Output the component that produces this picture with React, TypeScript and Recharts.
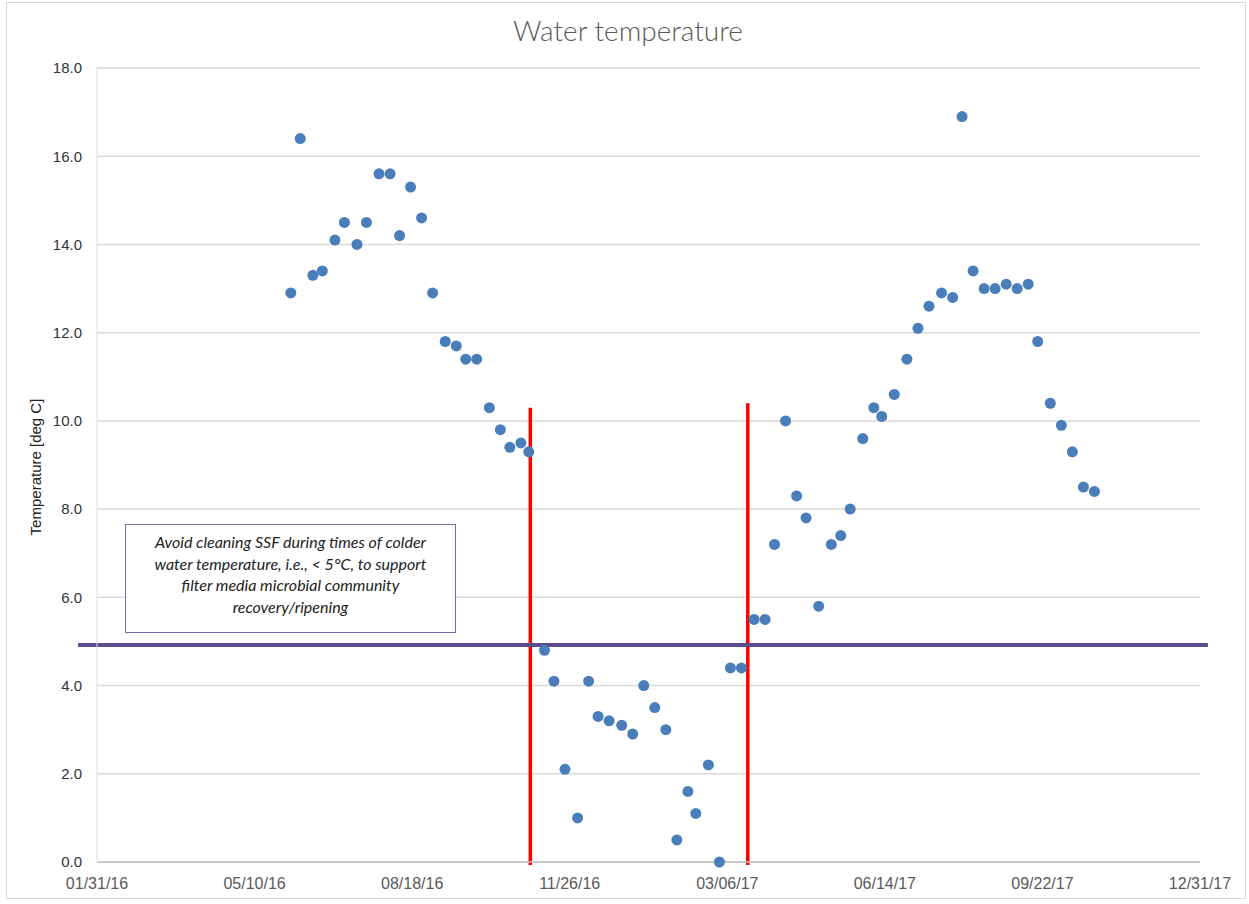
import {
  ScatterChart,
  Scatter,
  XAxis,
  YAxis,
  CartesianGrid,
  ReferenceLine,
} from 'recharts'

const sampleDates = [
  '2016-06-02', '2016-06-08', '2016-06-16', '2016-06-22', '2016-06-30',
  '2016-07-06', '2016-07-14', '2016-07-20', '2016-07-28', '2016-08-04',
  '2016-08-10', '2016-08-17', '2016-08-24', '2016-08-31', '2016-09-08',
  '2016-09-15', '2016-09-21', '2016-09-28', '2016-10-06', '2016-10-13',
  '2016-10-19', '2016-10-26', '2016-10-31', '2016-11-10', '2016-11-16',
  '2016-11-23', '2016-12-01', '2016-12-08', '2016-12-14', '2016-12-21',
  '2016-12-29', '2017-01-05', '2017-01-12', '2017-01-19', '2017-01-26',
  '2017-02-02', '2017-02-09', '2017-02-14', '2017-02-22', '2017-03-01',
  '2017-03-08', '2017-03-15', '2017-03-23', '2017-03-30', '2017-04-05',
  '2017-04-12', '2017-04-19', '2017-04-25', '2017-05-03', '2017-05-11',
  '2017-05-17', '2017-05-23', '2017-05-31', '2017-06-07', '2017-06-12',
  '2017-06-20', '2017-06-28', '2017-07-05', '2017-07-12', '2017-07-20',
  '2017-07-27', '2017-08-02', '2017-08-09', '2017-08-16', '2017-08-23',
  '2017-08-30', '2017-09-06', '2017-09-13', '2017-09-19', '2017-09-27',
  '2017-10-04', '2017-10-11', '2017-10-18', '2017-10-25',
]

const waterTemps = [
  12.9, 16.4, 13.3, 13.4, 14.1,
  14.5, 14.0, 14.5, 15.6, 15.6,
  14.2, 15.3, 14.6, 12.9, 11.8,
  11.7, 11.4, 11.4, 10.3, 9.8,
  9.4, 9.5, 9.3, 4.8, 4.1,
  2.1, 1.0, 4.1, 3.3, 3.2,
  3.1, 2.9, 4.0, 3.5, 3.0,
  0.5, 1.6, 1.1, 2.2, 0.0,
  4.4, 4.4, 5.5, 5.5, 7.2,
  10.0, 8.3, 7.8, 5.8, 7.2,
  7.4, 8.0, 9.6, 10.3, 10.1,
  10.6, 11.4, 12.1, 12.6, 12.9,
  12.8, 16.9, 13.4, 13.0, 13.0,
  13.1, 13.0, 13.1, 11.8, 10.4,
  9.9, 9.3, 8.5, 8.4,
]

const xTickDates = [
  '2016-01-31', '2016-05-10', '2016-08-18', '2016-11-26',
  '2017-03-06', '2017-06-14', '2017-09-22', '2017-12-31',
]
const yTicks = [0, 2, 4, 6, 8, 10, 12, 14, 16, 18]

// cleaning window markers (date, top of line)
const windowLines = [
  { date: '2016-11-01', top: 10.3 },
  { date: '2017-03-19', top: 10.4 },
]
const thresholdTemp = 4.92
const thresholdFrom = '2016-01-19'
const thresholdTo = '2018-01-05'

const noteLines = [
  'Avoid cleaning SSF during times of colder',
  'water temperature, i.e., < 5°C, to support',
  'filter media microbial community',
  'recovery/ripening',
]

const toTime = (d: string) => Date.parse(d)

function formatDate(t: number): string {
  const d = new Date(t)
  const mm = String(d.getUTCMonth() + 1).padStart(2, '0')
  const dd = String(d.getUTCDate()).padStart(2, '0')
  const yy = String(d.getUTCFullYear() % 100).padStart(2, '0')
  return `${mm}/${dd}/${yy}`
}

const data = sampleDates.map((d, i) => ({ t: toTime(d), temp: waterTemps[i] }))
const xTicks = xTickDates.map(toTime)

const Dot = (props: any) => (
  <circle cx={props.cx} cy={props.cy} r={5.5} fill="#4a7ebb" />
)

export default function App() {
  return (
    <div style={{ position: 'absolute', left: 0, top: 0, width: 1249, height: 904, background: '#fff' }}>
      <div
        style={{
          position: 'absolute',
          left: 6,
          top: 2,
          width: 1240,
          height: 897,
          border: '1px solid #d9d9d9',
          boxSizing: 'border-box',
        }}
      />
      <div
        style={{
          position: 'absolute',
          left: 0,
          width: 1256,
          top: 13,
          textAlign: 'center',
          fontFamily: 'Lato, sans-serif',
          fontWeight: 300,
          fontSize: 28,
          color: '#595959',
        }}
      >
        Water temperature
      </div>
      <ScatterChart
        width={1249}
        height={904}
        margin={{ top: 68, right: 49, bottom: 12, left: 27 }}
        style={{ position: 'absolute', left: 0, top: 0 }}
      >
        <CartesianGrid vertical={false} stroke="#d9d9d9" strokeWidth={1.5} />
        <XAxis
          type="number"
          dataKey="t"
          domain={[xTicks[0], xTicks[xTicks.length - 1]]}
          ticks={xTicks}
          tickFormatter={formatDate}
          height={30}
          tickLine={false}
          tickSize={0}
          tickMargin={16}
          stroke="#bfbfbf"
          strokeWidth={1.5}
          tick={{ fill: '#595959', fontSize: 16, fontFamily: 'Liberation Sans, Arial, sans-serif' }}
        />
        <YAxis
          type="number"
          dataKey="temp"
          domain={[0, 18]}
          ticks={yTicks}
          tickFormatter={(v: number) => v.toFixed(1)}
          width={70}
          tickLine={false}
          tickSize={0}
          tickMargin={15}
          stroke="#d9d9d9"
          tick={{ fill: '#333', fontSize: 15, fontFamily: 'Liberation Sans, Arial, sans-serif' }}
          label={{
            content: () => (
              <text
                x={35}
                y={467}
                transform="rotate(-90 35 467)"
                textAnchor="middle"
                dominantBaseline="central"
                fill="#222"
                fontSize={15}
                fontFamily="Liberation Sans, Arial, sans-serif"
              >
                Temperature [deg C]
              </text>
            ),
          }}
        />
        {windowLines.map((w) => (
          <ReferenceLine
            key={w.date}
            segment={[
              { x: toTime(w.date), y: -0.07 },
              { x: toTime(w.date), y: w.top },
            ]}
            stroke="#ff0000"
            strokeWidth={3.5}
            ifOverflow="visible"
          />
        ))}
        <ReferenceLine
          segment={[
            { x: toTime(thresholdFrom), y: thresholdTemp },
            { x: toTime(thresholdTo), y: thresholdTemp },
          ]}
          stroke="#5f4b8b"
          strokeWidth={4}
          ifOverflow="visible"
        />
        <Scatter data={data} shape={Dot} isAnimationActive={false} />
      </ScatterChart>
      <div
        style={{
          position: 'absolute',
          left: 125,
          top: 524,
          width: 331,
          height: 109,
          border: '1px solid #7f6aa6',
          boxSizing: 'border-box',
          background: '#fff',
          paddingTop: 6,
          textAlign: 'center',
          fontFamily: 'Lato, sans-serif',
          fontStyle: 'italic',
          fontSize: 16,
          lineHeight: '21.5px',
          color: '#222',
          whiteSpace: 'nowrap',
        }}
      >
        {noteLines.map((line) => (
          <div key={line}>{line}</div>
        ))}
      </div>
    </div>
  )
}
